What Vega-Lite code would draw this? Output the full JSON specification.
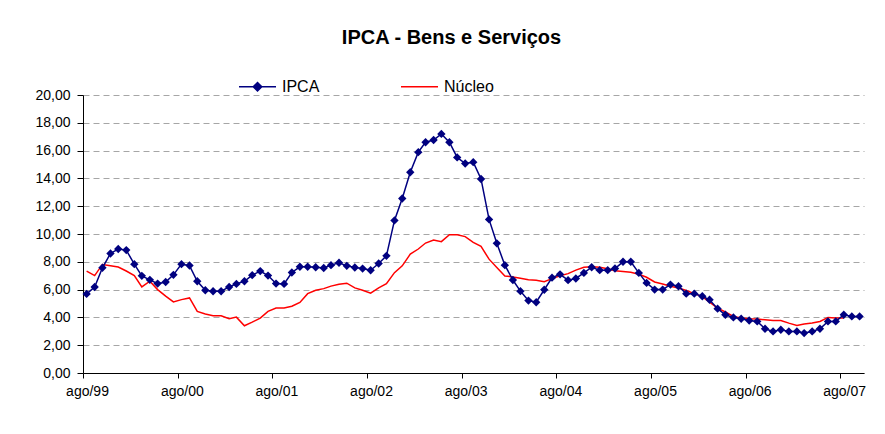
{
  "$schema": "https://vega.github.io/schema/vega-lite/v6.json",
  "autosize": "none",
  "width": 781,
  "height": 278,
  "padding": {"left": 83, "top": 95, "right": 21, "bottom": 61},
  "background": "white",
  "config": {
    "font": "Liberation Sans",
    "view": {"stroke": null},
    "axis": {"labelColor": "black", "domainColor": "black", "tickColor": "black", "labelFont": "Liberation Sans"}
  },
  "title": {
    "text": "IPCA - Bens e Serviços",
    "fontSize": 20,
    "fontWeight": "bold",
    "font": "Liberation Sans",
    "color": "black",
    "anchor": "middle",
    "dx": -22,
    "offset": 19
  },
  "data": {
    "values": [
      {"d": "1999/08/15", "IPCA": 5.69, "NUC": 7.33},
      {"d": "1999/09/15", "IPCA": 6.19, "NUC": 7.01},
      {"d": "1999/10/15", "IPCA": 7.57, "NUC": 7.81},
      {"d": "1999/11/15", "IPCA": 8.60, "NUC": 7.72},
      {"d": "1999/12/15", "IPCA": 8.92, "NUC": 7.62},
      {"d": "2000/01/15", "IPCA": 8.84, "NUC": 7.34},
      {"d": "2000/02/15", "IPCA": 7.83, "NUC": 7.01},
      {"d": "2000/03/15", "IPCA": 6.99, "NUC": 6.19},
      {"d": "2000/04/15", "IPCA": 6.70, "NUC": 6.60},
      {"d": "2000/05/15", "IPCA": 6.43, "NUC": 6.00},
      {"d": "2000/06/15", "IPCA": 6.55, "NUC": 5.53},
      {"d": "2000/07/15", "IPCA": 7.06, "NUC": 5.11},
      {"d": "2000/08/15", "IPCA": 7.83, "NUC": 5.28},
      {"d": "2000/09/15", "IPCA": 7.73, "NUC": 5.40},
      {"d": "2000/10/15", "IPCA": 6.60, "NUC": 4.43},
      {"d": "2000/11/15", "IPCA": 5.95, "NUC": 4.24},
      {"d": "2000/12/15", "IPCA": 5.88, "NUC": 4.12},
      {"d": "2001/01/15", "IPCA": 5.88, "NUC": 4.12},
      {"d": "2001/02/15", "IPCA": 6.19, "NUC": 3.90},
      {"d": "2001/03/15", "IPCA": 6.41, "NUC": 4.02},
      {"d": "2001/04/15", "IPCA": 6.60, "NUC": 3.40},
      {"d": "2001/05/15", "IPCA": 7.04, "NUC": 3.66},
      {"d": "2001/06/15", "IPCA": 7.33, "NUC": 3.95},
      {"d": "2001/07/15", "IPCA": 7.01, "NUC": 4.43},
      {"d": "2001/08/15", "IPCA": 6.43, "NUC": 4.67},
      {"d": "2001/09/15", "IPCA": 6.41, "NUC": 4.67},
      {"d": "2001/10/15", "IPCA": 7.23, "NUC": 4.80},
      {"d": "2001/11/15", "IPCA": 7.64, "NUC": 5.08},
      {"d": "2001/12/15", "IPCA": 7.64, "NUC": 5.71},
      {"d": "2002/01/15", "IPCA": 7.61, "NUC": 5.95},
      {"d": "2002/02/15", "IPCA": 7.55, "NUC": 6.07},
      {"d": "2002/03/15", "IPCA": 7.76, "NUC": 6.25},
      {"d": "2002/04/15", "IPCA": 7.93, "NUC": 6.39},
      {"d": "2002/05/15", "IPCA": 7.71, "NUC": 6.46},
      {"d": "2002/06/15", "IPCA": 7.59, "NUC": 6.12},
      {"d": "2002/07/15", "IPCA": 7.51, "NUC": 5.95},
      {"d": "2002/08/15", "IPCA": 7.39, "NUC": 5.74},
      {"d": "2002/09/15", "IPCA": 7.88, "NUC": 6.13},
      {"d": "2002/10/15", "IPCA": 8.43, "NUC": 6.42},
      {"d": "2002/11/15", "IPCA": 10.98, "NUC": 7.22},
      {"d": "2002/12/15", "IPCA": 12.55, "NUC": 7.71},
      {"d": "2003/01/15", "IPCA": 14.44, "NUC": 8.55},
      {"d": "2003/02/15", "IPCA": 15.89, "NUC": 8.92},
      {"d": "2003/03/15", "IPCA": 16.60, "NUC": 9.35},
      {"d": "2003/04/15", "IPCA": 16.76, "NUC": 9.57},
      {"d": "2003/05/15", "IPCA": 17.20, "NUC": 9.45},
      {"d": "2003/06/15", "IPCA": 16.60, "NUC": 9.95},
      {"d": "2003/07/15", "IPCA": 15.51, "NUC": 9.94},
      {"d": "2003/08/15", "IPCA": 15.07, "NUC": 9.81},
      {"d": "2003/09/15", "IPCA": 15.17, "NUC": 9.40},
      {"d": "2003/10/15", "IPCA": 13.96, "NUC": 9.11},
      {"d": "2003/11/15", "IPCA": 11.05, "NUC": 8.19},
      {"d": "2003/12/15", "IPCA": 9.33, "NUC": 7.59},
      {"d": "2004/01/15", "IPCA": 7.76, "NUC": 6.98},
      {"d": "2004/02/15", "IPCA": 6.69, "NUC": 6.91},
      {"d": "2004/03/15", "IPCA": 5.89, "NUC": 6.81},
      {"d": "2004/04/15", "IPCA": 5.21, "NUC": 6.71},
      {"d": "2004/05/15", "IPCA": 5.09, "NUC": 6.67},
      {"d": "2004/06/15", "IPCA": 5.99, "NUC": 6.57},
      {"d": "2004/07/15", "IPCA": 6.86, "NUC": 6.79},
      {"d": "2004/08/15", "IPCA": 7.10, "NUC": 7.00},
      {"d": "2004/09/15", "IPCA": 6.68, "NUC": 7.15},
      {"d": "2004/10/15", "IPCA": 6.80, "NUC": 7.40},
      {"d": "2004/11/15", "IPCA": 7.20, "NUC": 7.60},
      {"d": "2004/12/15", "IPCA": 7.61, "NUC": 7.65},
      {"d": "2005/01/15", "IPCA": 7.40, "NUC": 7.60},
      {"d": "2005/02/15", "IPCA": 7.40, "NUC": 7.50},
      {"d": "2005/03/15", "IPCA": 7.52, "NUC": 7.35},
      {"d": "2005/04/15", "IPCA": 8.00, "NUC": 7.30},
      {"d": "2005/05/15", "IPCA": 8.00, "NUC": 7.25},
      {"d": "2005/06/15", "IPCA": 7.20, "NUC": 7.10},
      {"d": "2005/07/15", "IPCA": 6.48, "NUC": 6.89},
      {"d": "2005/08/15", "IPCA": 6.00, "NUC": 6.55},
      {"d": "2005/09/15", "IPCA": 6.00, "NUC": 6.40},
      {"d": "2005/10/15", "IPCA": 6.36, "NUC": 6.24},
      {"d": "2005/11/15", "IPCA": 6.24, "NUC": 6.12},
      {"d": "2005/12/15", "IPCA": 5.71, "NUC": 5.93},
      {"d": "2006/01/15", "IPCA": 5.71, "NUC": 5.71},
      {"d": "2006/02/15", "IPCA": 5.52, "NUC": 5.50},
      {"d": "2006/03/15", "IPCA": 5.27, "NUC": 5.10},
      {"d": "2006/04/15", "IPCA": 4.63, "NUC": 4.67},
      {"d": "2006/05/15", "IPCA": 4.19, "NUC": 4.39},
      {"d": "2006/06/15", "IPCA": 4.00, "NUC": 4.07},
      {"d": "2006/07/15", "IPCA": 3.90, "NUC": 3.95},
      {"d": "2006/08/15", "IPCA": 3.78, "NUC": 3.90},
      {"d": "2006/09/15", "IPCA": 3.71, "NUC": 3.88},
      {"d": "2006/10/15", "IPCA": 3.18, "NUC": 3.83},
      {"d": "2006/11/15", "IPCA": 2.99, "NUC": 3.78},
      {"d": "2006/12/15", "IPCA": 3.11, "NUC": 3.78},
      {"d": "2007/01/15", "IPCA": 2.99, "NUC": 3.59},
      {"d": "2007/02/15", "IPCA": 2.99, "NUC": 3.42},
      {"d": "2007/03/15", "IPCA": 2.87, "NUC": 3.52},
      {"d": "2007/04/15", "IPCA": 2.99, "NUC": 3.59},
      {"d": "2007/05/15", "IPCA": 3.18, "NUC": 3.71},
      {"d": "2007/06/15", "IPCA": 3.71, "NUC": 4.00},
      {"d": "2007/07/15", "IPCA": 3.71, "NUC": 3.95},
      {"d": "2007/08/15", "IPCA": 4.19, "NUC": 3.95},
      {"d": "2007/09/15", "IPCA": 4.07, "NUC": null},
      {"d": "2007/10/15", "IPCA": 4.07, "NUC": null}
    ]
  },
  "encoding": {
    "x": {
      "field": "d",
      "type": "temporal",
      "scale": {"domain": [{"year": 1999, "month": 8, "date": 1}, {"year": 2007, "month": 11, "date": 1}]},
      "axis": {
        "title": null,
        "grid": false,
        "values": [
          {"year": 1999, "month": 8, "date": 1},
          {"year": 2000, "month": 8, "date": 1},
          {"year": 2001, "month": 8, "date": 1},
          {"year": 2002, "month": 8, "date": 1},
          {"year": 2003, "month": 8, "date": 1},
          {"year": 2004, "month": 8, "date": 1},
          {"year": 2005, "month": 8, "date": 1},
          {"year": 2006, "month": 8, "date": 1},
          {"year": 2007, "month": 8, "date": 1}
        ],
        "labelExpr": "'ago/' + timeFormat(datum.value, '%y')",
        "labelOffset": 4,
        "labelFontSize": 14,
        "labelPadding": 6,
        "tickSize": 5,
        "labelFlush": false,
        "labelOverlap": false
      }
    }
  },
  "layer": [
    {
      "mark": {"type": "line", "strokeWidth": 1.5},
      "encoding": {
        "y": {
          "field": "NUC",
          "type": "quantitative",
          "scale": {"domain": [0, 20], "nice": false},
          "axis": {
            "title": null,
            "values": [0, 2, 4, 6, 8, 10, 12, 14, 16, 18, 20],
            "labelExpr": "replace(format(datum.value, '.2f'), '.', ',')",
            "labelFontSize": 14,
            "labelOverlap": false,
            "labelFlush": false,
            "tickSize": 6,
            "labelPadding": 7,
            "gridColor": "#a6a6a6",
            "gridDash": [6, 4],
            "gridWidth": 1
          }
        },
        "color": {
          "datum": "Núcleo",
          "type": "nominal",
          "scale": {"domain": ["IPCA", "Núcleo"], "range": ["#000080", "#ff0000"]},
          "legend": {
            "title": null,
            "orient": "none",
            "legendX": 155,
            "legendY": -28,
            "direction": "horizontal",
            "columnPadding": 78,
            "labelFontSize": 16,
            "labelColor": "black",
            "labelOffset": 5,
            "symbolSize": 1369,
            "symbolStrokeWidth": 1.5,
            "symbolType": "stroke",
            "encode": {
              "symbols": {
                "update": {
                  "shape": {"signal": "datum.value === 'IPCA' ? 'M-1,0L1,0M-0.23,0L0,-0.23L0.23,0L0,0.23Z' : 'M-1,0L1,0'"},
                  "fill": {"signal": "datum.value === 'IPCA' ? '#000080' : 'transparent'"},
                  "stroke": {"signal": "datum.value === 'IPCA' ? '#000080' : '#ff0000'"}
                }
              }
            }
          }
        }
      }
    },
    {
      "mark": {"type": "line", "strokeWidth": 1.5},
      "encoding": {
        "y": {
          "field": "IPCA",
          "type": "quantitative",
          "scale": {"domain": [0, 20], "nice": false},
          "axis": {
            "title": null,
            "values": [0, 2, 4, 6, 8, 10, 12, 14, 16, 18, 20],
            "labelExpr": "replace(format(datum.value, '.2f'), '.', ',')",
            "labelFontSize": 14,
            "labelOverlap": false,
            "labelFlush": false,
            "tickSize": 6,
            "labelPadding": 7,
            "gridColor": "#a6a6a6",
            "gridDash": [6, 4],
            "gridWidth": 1
          }
        },
        "color": {"datum": "IPCA", "type": "nominal"}
      }
    },
    {
      "mark": {"type": "point", "shape": "diamond", "filled": true, "size": 70, "opacity": 1},
      "encoding": {
        "y": {
          "field": "IPCA",
          "type": "quantitative",
          "scale": {"domain": [0, 20], "nice": false},
          "axis": {
            "title": null,
            "values": [0, 2, 4, 6, 8, 10, 12, 14, 16, 18, 20],
            "labelExpr": "replace(format(datum.value, '.2f'), '.', ',')",
            "labelFontSize": 14,
            "labelOverlap": false,
            "labelFlush": false,
            "tickSize": 6,
            "labelPadding": 7,
            "gridColor": "#a6a6a6",
            "gridDash": [6, 4],
            "gridWidth": 1
          }
        },
        "color": {"datum": "IPCA", "type": "nominal"}
      }
    }
  ]
}
